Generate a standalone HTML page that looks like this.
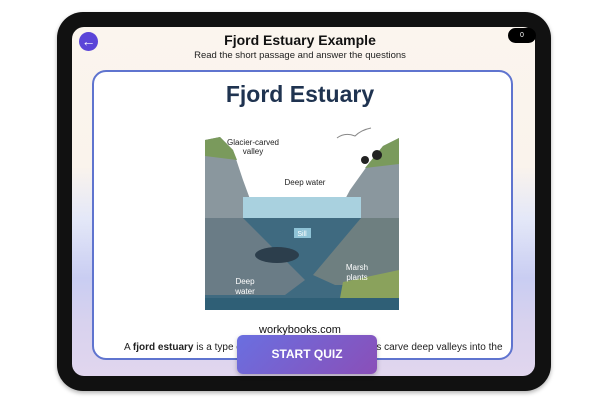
<!DOCTYPE html>
<html><head><style>
*{margin:0;padding:0;box-sizing:border-box}
body{width:600px;height:400px;background:#fff;position:relative;overflow:hidden;font-family:"Liberation Sans","DejaVu Sans",sans-serif}
.frame{position:absolute;left:57px;top:12px;width:494px;height:379px;background:#111;border-radius:26px;box-shadow:0 2px 4px rgba(0,0,0,.3)}
.screen{position:absolute;left:72px;top:27px;width:463px;height:349px;border-radius:12px;overflow:hidden;
background:linear-gradient(180deg,#fbf5ee 0%,#faf3ec 40%,#e4e8f8 55%,#c9cdf2 72%,#d8d2ee 85%,#e1d6ee 100%)}
.back{position:absolute;left:79px;top:32px;width:19px;height:19px;border-radius:50%;background:#5b45d8;color:#fff;font-size:14px;line-height:19px;text-align:center;font-weight:bold}
.badge{position:absolute;left:508px;top:28px;width:28px;height:15px;border-radius:8px;background:#000;color:#fff;font-size:7px;line-height:15px;text-align:center}
.t1{position:absolute;left:0;width:600px;top:32px;text-align:center;font-weight:bold;font-size:14px;color:#111}
.t2{position:absolute;left:0;width:600px;top:50px;text-align:center;font-size:9.5px;color:#222}
.card{position:absolute;left:92px;top:70px;width:421px;height:290px;background:#fff;border:2.5px solid #5f74cf;border-radius:14px;overflow:hidden}
.h{position:absolute;left:0;width:600px;top:81px;text-align:center;font-weight:bold;font-size:23px;color:#1f3350}
.wb{position:absolute;left:0;width:600px;top:324px;text-align:center;font-size:11px;color:#111}
.p{position:absolute;left:124px;top:342px;font-size:10px;color:#222;white-space:nowrap}
.btn{position:absolute;left:237px;top:335px;width:140px;height:39px;border-radius:6px;background:linear-gradient(135deg,#6a6fe0,#8a4fb8);color:#fff;font-weight:bold;font-size:12px;line-height:39px;text-align:center;box-shadow:0 2px 5px rgba(0,0,0,.25)}
</style></head><body>
<div class="frame"></div>
<div class="screen"></div>
<div class="back">&#x2190;</div>
<div class="badge">0</div>
<div class="t1">Fjord Estuary Example</div>
<div class="t2">Read the short passage and answer the questions</div>
<div class="card"></div>
<div class="h">Fjord Estuary</div>
<svg style="position:absolute;left:205px;top:120px" width="194" height="190" viewBox="0 0 194 190">
<rect width="194" height="190" fill="#fff"/>
<rect y="98" width="194" height="92" fill="#3f6a80"/>
<polygon points="0,20 15,17 28,30 38,60 52,98 0,98" fill="#8a979e"/>
<polygon points="0,20 15,17 28,30 32,40 0,36" fill="#7a9a5c"/>
<polygon points="194,18 178,26 165,42 145,70 130,98 194,98" fill="#8a979e"/>
<polygon points="194,18 178,26 160,48 194,44" fill="#7a9a5c"/>
<rect x="38" y="77" width="118" height="21" fill="#a9d1df"/>
<polygon points="0,98 38,98 100,160 80,175 0,175" fill="#6a7c86"/>
<polygon points="194,98 156,98 108,155 130,165 194,165" fill="#6e7f80"/>
<polygon points="138,162 194,150 194,180 135,178" fill="#8aa25c"/>
<rect y="178" width="194" height="12" fill="#2f5f76"/>
<ellipse cx="72" cy="135" rx="22" ry="8" fill="#2c3e4c"/>
<rect x="89" y="108" width="17" height="10" fill="#8fc3d6"/>
<text x="97" y="116" font-size="7" fill="#fff" text-anchor="middle">Sill</text>
<text x="48" y="25" font-size="8" fill="#222" text-anchor="middle">Glacier-carved</text>
<text x="48" y="34" font-size="8" fill="#222" text-anchor="middle">valley</text>
<text x="100" y="65" font-size="8" fill="#222" text-anchor="middle">Deep water</text>
<text x="40" y="164" font-size="8" fill="#fff" text-anchor="middle">Deep</text>
<text x="40" y="174" font-size="8" fill="#fff" text-anchor="middle">water</text>
<text x="152" y="150" font-size="8" fill="#fff" text-anchor="middle">Marsh</text>
<text x="152" y="160" font-size="8" fill="#fff" text-anchor="middle">plants</text>
<path d="M132,18 q8,-6 18,-2 q6,-6 16,-8" stroke="#888" fill="none"/>
<circle cx="172" cy="35" r="5" fill="#222"/><circle cx="160" cy="40" r="4" fill="#222"/>
</svg>
<div class="wb">workybooks.com</div>
<div class="p">A <b>fjord estuary</b> is a type of estuary formed where glaciers carve deep valleys into the</div>
<div class="btn">START QUIZ</div>
</body></html>
